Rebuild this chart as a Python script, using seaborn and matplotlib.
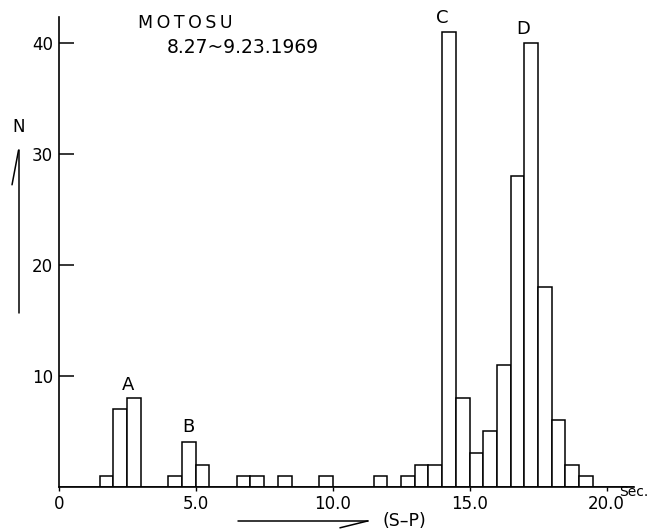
import numpy as np
import pandas as pd
import seaborn as sns
import matplotlib.pyplot as plt

# (S-P) time histogram, 0.5 s bins, left edge of each non-empty bin and its count
bin_left = [1.5, 2.0, 2.5, 4.0, 4.5, 5.0, 6.5, 7.0, 8.0, 9.5, 11.5, 12.5, 13.0,
            13.5, 14.0, 14.5, 15.0, 15.5, 16.0, 16.5, 17.0, 17.5, 18.0, 18.5, 19.0]
counts = [1, 7, 8, 1, 4, 2, 1, 1, 1, 1, 1, 1, 2,
          2, 41, 8, 3, 5, 11, 28, 40, 18, 6, 2, 1]

x_ticks = [0, 5, 10, 15, 20]
x_tick_labels = ["0", "5.0", "10.0", "15.0", "20.0"]
y_ticks = [10, 20, 30, 40]
y_tick_labels = ["10", "20", "30", "40"]

peak_labels = ["A", "B", "C", "D"]
peak_x = [2.55, 4.75, 14.0, 16.95]
peak_y = [9.2, 5.4, 42.3, 41.3]

# one row per event, placed at the centre of its bin
df = pd.DataFrame({"sp": np.repeat(np.array(bin_left) + 0.25, counts)})

sns.set_theme(style="white")
plt.rcParams["font.family"] = ["DejaVu Sans"]
plt.rcParams["text.color"] = "black"

fig = plt.figure(figsize=(6.5, 5.31), dpi=100)
ax = fig.add_axes([0.0903, 0.0834, 0.885, 0.885])

sns.histplot(
    data=df,
    x="sp",
    binwidth=0.5,
    binrange=(0, 21),
    fill=True,
    color="white",
    edgecolor="black",
    alpha=1,
    linewidth=1.1,
    ax=ax,
)

ax.set_xlim(0, 21)
ax.set_ylim(0, 42.4)
ax.set_xlabel("")
ax.set_ylabel("")
for s in ["top", "right"]:
    ax.spines[s].set_visible(False)
for s in ["left", "bottom"]:
    ax.spines[s].set_color("black")
    ax.spines[s].set_linewidth(1.2)

ax.set_xticks(x_ticks)
ax.set_xticklabels(x_tick_labels)
ax.set_yticks(y_ticks)
ax.set_yticklabels(y_tick_labels)
ax.tick_params(axis="y", direction="in", length=11, width=1.1, pad=4,
               labelsize=12, colors="black", left=True)
ax.tick_params(axis="x", direction="out", length=3, width=1.0, pad=3,
               labelsize=12, colors="black", bottom=True)

for lab, px, py in zip(peak_labels, peak_x, peak_y):
    ax.text(px, py, lab, ha="center", va="center", fontsize=13, color="black",
            clip_on=False)

# title block
fig.text(0.212, 0.957, "M\u2009O\u2009T\u2009O\u2009S\u2009U", fontsize=12.5,
         ha="left", va="center")
fig.text(0.257, 0.911, "8.27~9.23.1969", fontsize=13.5, ha="left", va="center")

# units
fig.text(0.952, 0.073, "Sec.", fontsize=10, ha="left", va="center")

# y label with arrow
fig.text(0.028, 0.761, "N", fontsize=12, ha="center", va="center")
fig.add_artist(plt.Line2D([0.0285, 0.0285], [0.410, 0.717], color="black",
                          lw=1.1, transform=fig.transFigure))
fig.add_artist(plt.Line2D([0.0285, 0.0185], [0.717, 0.652], color="black",
                          lw=1.1, transform=fig.transFigure))

# x label with arrow
fig.text(0.589, 0.019, "(S\u2013P)", fontsize=12.5, ha="left", va="center")
fig.add_artist(plt.Line2D([0.366, 0.566], [0.019, 0.019], color="black",
                          lw=1.1, transform=fig.transFigure))
fig.add_artist(plt.Line2D([0.566, 0.523], [0.019, 0.006], color="black",
                          lw=1.1, transform=fig.transFigure))

fig.savefig("out.png", dpi=100)
